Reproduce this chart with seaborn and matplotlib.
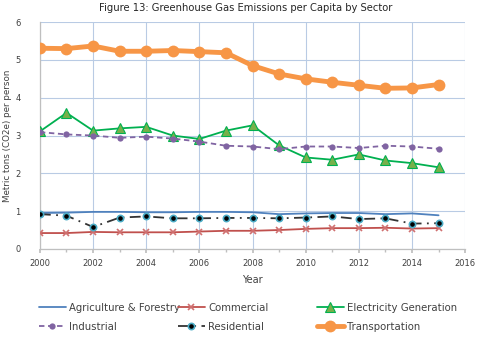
import matplotlib
matplotlib.use("Agg")
import matplotlib.pyplot as plt
import seaborn as sns
import pandas as pd
from matplotlib.ticker import MultipleLocator

years = list(range(2000, 2016))
agriculture = [0.95, 0.96, 0.98, 0.98, 0.97, 0.97, 0.98, 0.98, 0.97, 0.92, 0.94, 0.95, 0.95, 0.92, 0.94, 0.89]
commercial = [0.42, 0.42, 0.45, 0.44, 0.44, 0.44, 0.46, 0.48, 0.48, 0.50, 0.53, 0.55, 0.55, 0.56, 0.54, 0.55]
electricity = [3.11, 3.60, 3.13, 3.19, 3.23, 3.00, 2.91, 3.13, 3.27, 2.74, 2.42, 2.36, 2.50, 2.34, 2.27, 2.16]
industrial = [3.09, 3.03, 3.00, 2.94, 2.97, 2.92, 2.84, 2.73, 2.71, 2.64, 2.71, 2.71, 2.67, 2.73, 2.71, 2.65]
residential = [0.92, 0.88, 0.58, 0.83, 0.86, 0.81, 0.81, 0.82, 0.82, 0.81, 0.83, 0.86, 0.79, 0.81, 0.67, 0.68]
transportation = [5.31, 5.30, 5.37, 5.23, 5.23, 5.25, 5.22, 5.19, 4.85, 4.63, 4.50, 4.41, 4.33, 4.25, 4.26, 4.35]

series = {
    "Agriculture & Forestry": agriculture,
    "Commercial": commercial,
    "Electricity Generation": electricity,
    "Industrial": industrial,
    "Residential": residential,
    "Transportation": transportation,
}

styles = {
    "Agriculture & Forestry": dict(color="#4f81bd", lw=1.3, ls="-", marker=None),
    "Commercial": dict(color="#c0504d", lw=1.3, ls="-", marker="x", ms=4.5, mfc="#d99694", mec="#d07070", mew=1.2),
    "Electricity Generation": dict(color="#00b050", lw=1.3, ls="-", marker="^", ms=6.5, mfc="#77b04a", mec="#00b050", mew=0.8),
    "Industrial": dict(color="#8064a2", lw=1.3, ls=(0, (3, 2)), marker="o", ms=4.5, mfc="#8064a2", mec="#8064a2", mew=0),
    "Residential": dict(color="#333333", lw=1.3, ls=(0, (6, 3, 1, 3)), marker="o", ms=4.5, mfc="black", mec="#4bacc6", mew=1.2),
    "Transportation": dict(color="#f79646", lw=3.5, ls="-", marker="o", ms=8.5, mfc="#f79646", mec="#f79646", mew=0),
}

sns.set_theme(style="white")
plt.rcParams["font.family"] = ["DejaVu Sans"]

fig = plt.figure(figsize=(4.81, 3.41), dpi=100)
ax = fig.add_axes([0.083, 0.27, 0.884, 0.665])

handles = {}
for name, vals in series.items():
    df = pd.DataFrame({"Year": years, "Value": vals})
    st = styles[name]
    sns.lineplot(data=df, x="Year", y="Value", ax=ax, color=st["color"], linewidth=st["lw"],
                 linestyle=st["ls"], marker=st["marker"] if st["marker"] else None,
                 markersize=st.get("ms", 0), markerfacecolor=st.get("mfc"),
                 markeredgecolor=st.get("mec"), markeredgewidth=st.get("mew", 0),
                 label=name, zorder=5 if name == "Transportation" else 3)
    handles[name] = ax.get_lines()[-1]
if ax.get_legend():
    ax.get_legend().remove()

ax.set_xlim(2000, 2016)
ax.set_ylim(0, 6)
ax.xaxis.set_major_locator(MultipleLocator(2))
ax.xaxis.set_minor_locator(MultipleLocator(1))
ax.yaxis.set_major_locator(MultipleLocator(1))
ax.grid(True, which="major", color="#b9cbe4", lw=0.8)
ax.set_axisbelow(True)
for s in ["top", "right"]:
    ax.spines[s].set_visible(False)
for s in ["left", "bottom"]:
    ax.spines[s].set_color("#bfbfbf")
    ax.spines[s].set_linewidth(0.9)
ax.tick_params(axis="x", which="both", bottom=True, length=3, color="#bfbfbf", labelsize=6, pad=4, labelcolor="#404040")
ax.tick_params(axis="x", which="minor", length=2)
ax.tick_params(axis="y", labelsize=6, labelcolor="#404040", left=False, pad=8)

ax.set_xlabel("Year", fontsize=7, color="#404040", labelpad=5)
ax.set_ylabel("Metric tons (CO2e) per person", fontsize=6.3, color="#404040")
ax.yaxis.set_label_coords(-0.066, 0.5)
fig.suptitle("Figure 13: Greenhouse Gas Emissions per Capita by Sector", fontsize=7.2, y=0.99, x=0.51)

columns = [["Agriculture & Forestry", "Industrial"],
           ["Commercial", "Residential"],
           ["Electricity Generation", "Transportation"]]
xs = [0.068, 0.357, 0.646]
for xpos, col in zip(xs, columns):
    fig.legend([handles[n] for n in col], col, loc="lower left", bbox_to_anchor=(xpos, 0.01),
               ncol=1, frameon=False, fontsize=7.3, handlelength=2.7,
               labelspacing=0.85, handletextpad=0.3, labelcolor="#404040", borderaxespad=0.2)

fig.savefig("out.png", dpi=100)
